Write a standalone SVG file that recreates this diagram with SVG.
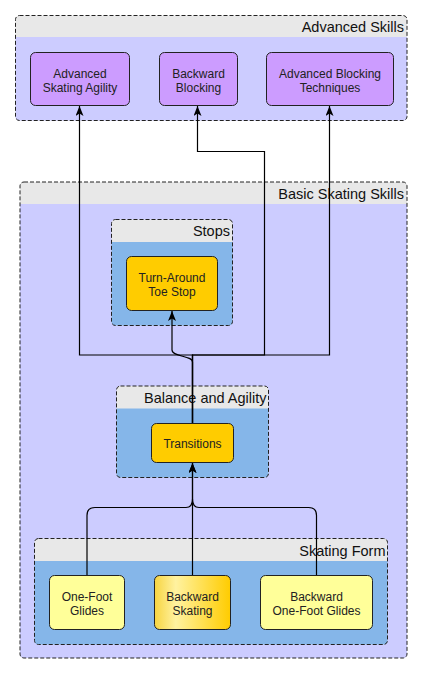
<svg xmlns="http://www.w3.org/2000/svg" width="423" height="674" viewBox="0 0 423 674">
<defs>
<style>
.hdr{fill:#e8e8e8;stroke:none}
.body{fill:#ccccff;stroke:none}
.inner{fill:#85b6e9;stroke:none}
.frame{fill:none;stroke:#222;stroke-width:1;stroke-dasharray:4,2}
.ttl{font-family:"Liberation Sans",Arial,sans-serif;font-size:14.5px;fill:#111;text-anchor:end}
.node{stroke:#222;stroke-width:1}
.purple{fill:#cc9cff}
.gold{fill:#ffcc00}
.pale{fill:#ffff99}
.lbl{font-family:"Liberation Sans",Arial,sans-serif;font-size:12px;fill:#222;text-anchor:middle}
.edge{fill:none;stroke:#000;stroke-width:1.2}
</style>
<linearGradient id="gBS" x1="0" y1="0" x2="1" y2="0">
<stop offset="0" stop-color="#f7d440"/>
<stop offset="0.28" stop-color="#fff2a0"/>
<stop offset="1" stop-color="#ffcc00"/>
</linearGradient>
<marker id="arr" markerWidth="11" markerHeight="8" refX="10" refY="4" orient="auto" markerUnits="userSpaceOnUse">
<path d="M0,0 L10,4 L0,8 L2.5,4 Z" fill="#000"/>
</marker>
</defs>

<g id="grp-advanced">
<rect class="hdr" x="15.5" y="15.5" width="391.5" height="105" rx="4"/>
<path class="body" d="M15.5,37 H407 V116.5 Q407,120.5 403,120.5 H19.5 Q15.5,120.5 15.5,116.5 Z"/>
<rect class="frame" x="15.5" y="15.5" width="391.5" height="105" rx="4"/>
<text class="ttl" x="404" y="32">Advanced Skills</text>
</g>

<g id="grp-basic">
<rect class="hdr" x="20" y="182" width="387" height="476" rx="4"/>
<path class="body" d="M20,204 H407 V654 Q407,658 403,658 H24 Q20,658 20,654 Z"/>
<rect class="frame" x="20" y="182" width="387" height="476" rx="4"/>
<text class="ttl" x="404" y="199">Basic Skating Skills</text>
</g>

<g id="grp-stops">
<rect class="hdr" x="111.5" y="219.5" width="121" height="106" rx="4"/>
<path class="inner" d="M111.5,242 H232.5 V321.5 Q232.5,325.5 228.5,325.5 H115.5 Q111.5,325.5 111.5,321.5 Z"/>
<rect class="frame" x="111.5" y="219.5" width="121" height="106" rx="4"/>
<text class="ttl" x="230" y="236">Stops</text>
</g>

<g id="grp-balance">
<rect class="hdr" x="116.5" y="386" width="152" height="91.5" rx="4"/>
<path class="inner" d="M116.5,408.5 H268.5 V473.5 Q268.5,477.5 264.5,477.5 H120.5 Q116.5,477.5 116.5,473.5 Z"/>
<rect class="frame" x="116.5" y="386" width="152" height="91.5" rx="4"/>
<text class="ttl" x="266.5" y="403">Balance and Agility</text>
</g>

<g id="grp-form">
<rect class="hdr" x="34.5" y="538.5" width="353" height="106" rx="4"/>
<path class="inner" d="M34.5,561 H387.5 V640.5 Q387.5,644.5 383.5,644.5 H38.5 Q34.5,644.5 34.5,640.5 Z"/>
<rect class="frame" x="34.5" y="538.5" width="353" height="106" rx="4"/>
<text class="ttl" x="385.5" y="556">Skating Form</text>
</g>

<g id="connectors">
<path class="edge" d="M192.5,423.5 V362 C192.5,355.5 172,357 172,350 V311" marker-end="url(#arr)"/>
<path class="edge" d="M192.5,423.5 V355 H79.5 V106" marker-end="url(#arr)"/>
<path class="edge" d="M192.5,423.5 V355 H264.5 V151.5 H197.5 V106" marker-end="url(#arr)"/>
<path class="edge" d="M192.5,423.5 V355 H329.5 V106" marker-end="url(#arr)"/>
<path class="edge" d="M87,575.5 V515.5 Q87,507.5 95,507.5 H186 Q192.5,507.5 192.5,499 V463" marker-end="url(#arr)"/>
<path class="edge" d="M192.5,575.5 V463" marker-end="url(#arr)"/>
<path class="edge" d="M316.5,575.5 V515.5 Q316.5,507.5 308.5,507.5 H199 Q192.5,507.5 192.5,499"/>
</g>

<g id="node-advanced-skating-agility">
<rect class="node purple" x="30.5" y="52.5" width="99" height="53" rx="5"/>
<text class="lbl" x="80" y="78">Advanced</text>
<text class="lbl" x="80" y="92">Skating Agility</text>
</g>
<g id="node-backward-blocking">
<rect class="node purple" x="159.5" y="52.5" width="78" height="53" rx="5"/>
<text class="lbl" x="198.5" y="78">Backward</text>
<text class="lbl" x="198.5" y="92">Blocking</text>
</g>
<g id="node-advanced-blocking-techniques">
<rect class="node purple" x="266.5" y="52.5" width="127" height="53" rx="5"/>
<text class="lbl" x="330" y="78">Advanced Blocking</text>
<text class="lbl" x="330" y="92">Techniques</text>
</g>
<g id="node-turn-around-toe-stop">
<rect class="node gold" x="126.5" y="256.5" width="91" height="54" rx="5"/>
<text class="lbl" x="172" y="281.5">Turn-Around</text>
<text class="lbl" x="172" y="296">Toe Stop</text>
</g>
<g id="node-transitions">
<rect class="node gold" x="151.5" y="423.5" width="82" height="39" rx="5"/>
<text class="lbl" x="192.5" y="447.5">Transitions</text>
</g>
<g id="node-one-foot-glides">
<rect class="node pale" x="49.5" y="575.5" width="75" height="54" rx="5"/>
<text class="lbl" x="87" y="600.5">One-Foot</text>
<text class="lbl" x="87" y="614.5">Glides</text>
</g>
<g id="node-backward-skating">
<rect class="node" fill="url(#gBS)" x="154.5" y="575.5" width="76" height="54" rx="5"/>
<text class="lbl" x="192.5" y="600.5">Backward</text>
<text class="lbl" x="192.5" y="614.5">Skating</text>
</g>
<g id="node-backward-one-foot-glides">
<rect class="node pale" x="260.5" y="575.5" width="112" height="54" rx="5"/>
<text class="lbl" x="316.5" y="600.5">Backward</text>
<text class="lbl" x="316.5" y="614.5">One-Foot Glides</text>
</g>
</svg>
